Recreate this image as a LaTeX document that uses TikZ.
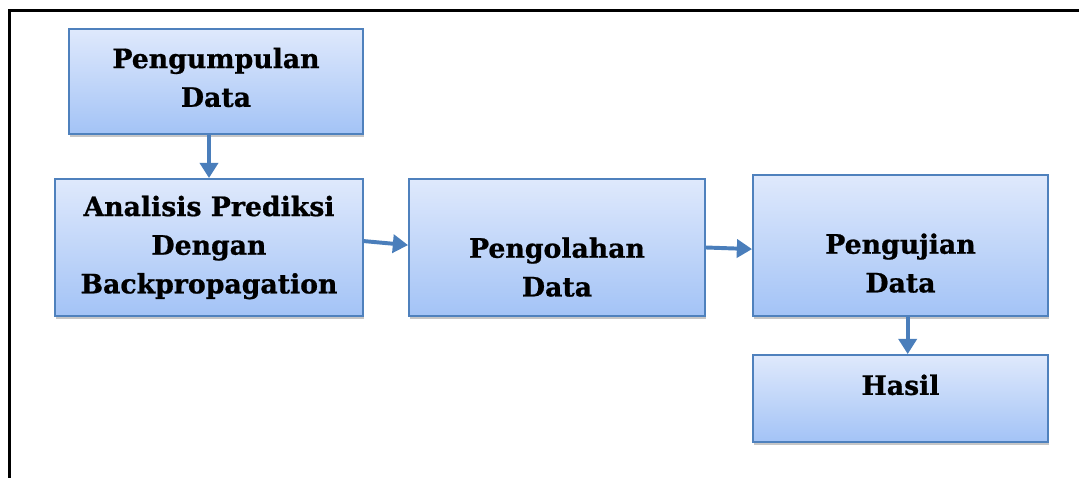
\documentclass[tikz,border=0pt]{standalone}
\usepackage{fontspec}
\setmainfont{DejaVu Serif}[BoldFeatures={FakeBold=0.8}]
\usetikzlibrary{arrows.meta,positioning,shadows,calc}
\definecolor{boxline}{HTML}{4F81BD}
\definecolor{boxtop}{HTML}{DFE9FC}
\definecolor{boxbot}{HTML}{A3C3F6}
\definecolor{arrblue}{HTML}{4A7EBB}

\begin{document}
\begin{tikzpicture}[x=0.025cm, y=-0.025cm,
      box/.style={draw=boxline, line width=1.3pt, top color=boxtop, bottom color=boxbot,
                  drop shadow={shadow xshift=0.8pt, shadow yshift=-2pt, opacity=0.45},
                  inner sep=0pt},
      txt/.style={align=center, inner sep=0pt, font=\bfseries\fontsize{19}{27.5}\selectfont},
      arr/.style={-{Triangle[length=0.38cm, width=0.45cm]}, arrblue, line width=2.8pt}]
    \useasboundingbox (0,0) rectangle (1079,478);
    \draw[line width=0.09cm] (9.5,478) -- (9.5,10.5) -- (1079,10.5);
    \node[box, minimum width=7.35cm, minimum height=2.625cm,
          label={[txt, yshift=0.1cm]center:Pengumpulan\\Data}] (kumpul) at (216,81.5) {};
    \node[box, minimum width=7.7cm, minimum height=3.425cm,
          label={[txt]center:Analisis Prediksi\\Dengan\\Backpropagation}] (analisis) at (209,247.5) {};
    \node[box, minimum width=7.4cm, minimum height=3.425cm,
          label={[txt, yshift=-0.49cm]center:Pengolahan\\Data}] (olah) at (557,247.5) {};
    \node[box, minimum width=7.375cm, minimum height=3.525cm,
          label={[txt, yshift=-0.44cm]center:Pengujian\\Data}] (uji) at (900.5,245.5) {};
    \node[box, minimum width=7.375cm, minimum height=2.175cm,
          label={[txt, yshift=0.34cm]center:Hasil}] (hasil) at (900.5,398.5) {};
    \draw[arr] (kumpul.south -| analisis) -- (analisis.north);
    \draw[arr] ([yshift=0.16cm]analisis.east) -- ([yshift=0.06cm]olah.west);
    \draw[arr] (olah.east) -- ([yshift=-0.09cm]uji.west);
    \draw[arr] ([xshift=0.18cm]uji.south) -- ([xshift=0.18cm]hasil.north);
  \end{tikzpicture}
\end{document}
